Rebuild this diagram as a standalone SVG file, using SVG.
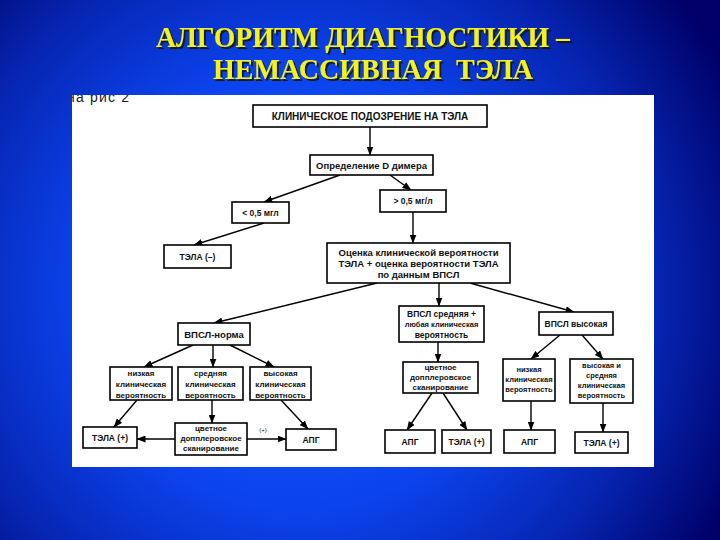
<svg xmlns="http://www.w3.org/2000/svg" width="720" height="540" viewBox="0 0 720 540">
<defs>
<radialGradient id="bg" cx="300" cy="290" r="480" gradientUnits="userSpaceOnUse">
<stop offset="0" stop-color="#1a5cff"/>
<stop offset="0.45" stop-color="#0b44ee"/>
<stop offset="0.75" stop-color="#0624b0"/>
<stop offset="1" stop-color="#000068"/>
</radialGradient>
<filter id="sh" x="-5%" y="-20%" width="110%" height="150%">
<feDropShadow dx="2" dy="2" stdDeviation="0.6" flood-color="#151505" flood-opacity="0.9"/>
</filter>
<marker id="ar" markerUnits="userSpaceOnUse" markerWidth="9" markerHeight="7" refX="8.5" refY="3.5" orient="auto">
<path d="M0,0 L9,3.5 L0,7 z" fill="#000"/>
</marker>
<clipPath id="pc"><rect x="72" y="95" width="582" height="372"/></clipPath>
</defs>
<style>
.title{font-family:"Liberation Serif","Times New Roman",serif;font-weight:bold;font-size:29px;fill:#f4f21a}
.box{fill:#fff;stroke:#000;stroke-width:1.6}
.t{font-family:"Liberation Sans",Arial,sans-serif;font-weight:bold;fill:#111;text-anchor:middle}
.s10{font-size:10px}.s9{font-size:9.5px}.s8{font-size:8.5px}.s7{font-size:8px}.s6{font-size:7.5px}
.c{stroke:#000;stroke-width:1.4;fill:none;marker-end:url(#ar)}
</style>
<rect width="720" height="540" fill="url(#bg)"/>
<g id="title" filter="url(#sh)">
<text class="title" x="156" y="47" textLength="414" lengthAdjust="spacingAndGlyphs">АЛГОРИТМ ДИАГНОСТИКИ –</text>
<text class="title" x="213" y="79" textLength="320" lengthAdjust="spacingAndGlyphs" xml:space="preserve">НЕМАССИВНАЯ  ТЭЛА</text>
</g>
<rect x="72" y="95" width="582" height="372" fill="#fff"/>
<text x="67" y="101.5" clip-path="url(#pc)" font-family="Liberation Sans,Arial,sans-serif" font-size="14" letter-spacing="1.2" fill="#222">на рис 2</text>
<g id="connectors">
<line class="c" x1="370" y1="127" x2="370" y2="155"/>
<line class="c" x1="340" y1="175" x2="264" y2="202"/>
<line class="c" x1="390" y1="175" x2="411" y2="190"/>
<line class="c" x1="264" y1="223" x2="194" y2="245"/>
<line class="c" x1="413" y1="212" x2="413" y2="243"/>
<line class="c" x1="377" y1="283" x2="214" y2="323"/>
<line class="c" x1="439" y1="283" x2="439" y2="306"/>
<line class="c" x1="470" y1="283" x2="574" y2="312"/>
<line class="c" x1="193" y1="345" x2="144" y2="367"/>
<line class="c" x1="213" y1="345" x2="213" y2="367"/>
<line class="c" x1="230" y1="345" x2="274" y2="367"/>
<line class="c" x1="137" y1="400" x2="114" y2="427"/>
<line class="c" x1="212" y1="400" x2="212" y2="423"/>
<line class="c" x1="281" y1="400" x2="308" y2="429"/>
<line class="c" x1="175" y1="439" x2="137" y2="439"/>
<line class="c" x1="247" y1="439" x2="286" y2="439"/>
<line class="c" x1="438" y1="342" x2="438" y2="362"/>
<line class="c" x1="432" y1="393" x2="407" y2="430"/>
<line class="c" x1="443" y1="393" x2="467" y2="430"/>
<line class="c" x1="560" y1="335" x2="531" y2="359"/>
<line class="c" x1="582" y1="335" x2="603" y2="359"/>
<line class="c" x1="531" y1="401" x2="531" y2="430"/>
<line class="c" x1="603" y1="403" x2="603" y2="432"/>
<text x="263" y="432" font-family="Liberation Sans,Arial,sans-serif" font-size="6" fill="#222" text-anchor="middle">(+)</text>
</g>
<g id="n1"><rect class="box" x="253" y="105" width="234" height="22"/><text class="t s10" x="370" y="120">КЛИНИЧЕСКОЕ ПОДОЗРЕНИЕ НА ТЭЛА</text></g>
<g id="n2"><rect class="box" x="310" y="155" width="123" height="20"/><text class="t s9" x="371.5" y="168.5">Определение D димера</text></g>
<g id="n3"><rect class="box" x="232" y="202" width="57" height="21"/><text class="t s8" x="260.5" y="215.5">&lt; 0,5 мгл</text></g>
<g id="n4"><rect class="box" x="380" y="190" width="66" height="22"/><text class="t s8" x="413" y="204">&gt; 0,5 мг/л</text></g>
<g id="n5"><rect class="box" x="164" y="245" width="67" height="23"/><text class="t s8" x="197.5" y="259.5">ТЭЛА (–)</text></g>
<g id="n6"><rect class="box" x="327" y="243" width="183" height="40"/>
<text class="t s9" x="418.5" y="256">Оценка клинической вероятности</text>
<text class="t s9" x="418.5" y="267">ТЭЛА + оценка вероятности ТЭЛА</text>
<text class="t s9" x="418.5" y="278">по данным ВПСЛ</text></g>
<g id="n7"><rect class="box" x="178" y="323" width="72" height="22"/><text class="t s9" x="214" y="337.5">ВПСЛ-норма</text></g>
<g id="n8"><rect class="box" x="399" y="306" width="85" height="36"/>
<text class="t s8" x="441.5" y="316.5">ВПСЛ средняя +</text>
<text class="t s6" x="441.5" y="327">любая клиническая</text>
<text class="t s8" x="441.5" y="337.5">вероятность</text></g>
<g id="n9"><rect class="box" x="539" y="312" width="74" height="23"/><text class="t s8" x="576" y="326.5">ВПСЛ высокая</text></g>
<g id="n10"><rect class="box" x="110" y="367" width="62" height="33"/>
<text class="t s7" x="141" y="376">низкая</text><text class="t s7" x="141" y="387">клиническая</text><text class="t s7" x="141" y="397.5">вероятность</text></g>
<g id="n11"><rect class="box" x="178" y="367" width="65" height="33"/>
<text class="t s7" x="210.5" y="376">средняя</text><text class="t s7" x="210.5" y="387">клиническая</text><text class="t s7" x="210.5" y="397.5">вероятность</text></g>
<g id="n12"><rect class="box" x="250" y="367" width="61" height="33"/>
<text class="t s7" x="280.5" y="376">высокая</text><text class="t s7" x="280.5" y="387">клиническая</text><text class="t s7" x="280.5" y="397.5">вероятность</text></g>
<g id="n13"><rect class="box" x="83" y="427" width="54" height="21"/><text class="t s8" x="110" y="440.5">ТЭЛА (+)</text></g>
<g id="n14"><rect class="box" x="175" y="423" width="72" height="32"/>
<text class="t s7" x="211" y="431">цветное</text><text class="t s7" x="211" y="441">допплеровское</text><text class="t s7" x="211" y="451">сканирование</text></g>
<g id="n15"><rect class="box" x="286" y="429" width="50" height="21"/><text class="t s8" x="311" y="442.5">АПГ</text></g>
<g id="n16"><rect class="box" x="403" y="362" width="75" height="31"/>
<text class="t s7" x="440.5" y="370">цветное</text><text class="t s7" x="440.5" y="380">допплеровское</text><text class="t s7" x="440.5" y="390">сканирование</text></g>
<g id="n17"><rect class="box" x="503" y="359" width="52" height="42"/>
<text class="t s6" x="529" y="372">низкая</text><text class="t s6" x="529" y="382">клиническая</text><text class="t s6" x="529" y="392">вероятность</text></g>
<g id="n18"><rect class="box" x="570" y="359" width="63" height="44"/>
<text class="t s6" x="601.5" y="368">высокая и</text><text class="t s6" x="601.5" y="378">средняя</text><text class="t s6" x="601.5" y="388">клиническая</text><text class="t s6" x="601.5" y="398">вероятность</text></g>
<g id="n19"><rect class="box" x="385" y="430" width="50" height="23"/><text class="t s8" x="410" y="444.5">АПГ</text></g>
<g id="n20"><rect class="box" x="442" y="430" width="49" height="23"/><text class="t s8" x="466.5" y="444.5">ТЭЛА (+)</text></g>
<g id="n21"><rect class="box" x="504" y="430" width="51" height="23"/><text class="t s8" x="529.5" y="444.5">АПГ</text></g>
<g id="n22"><rect class="box" x="575" y="432" width="53" height="21"/><text class="t s8" x="601.5" y="445.5">ТЭЛА (+)</text></g>
</svg>
